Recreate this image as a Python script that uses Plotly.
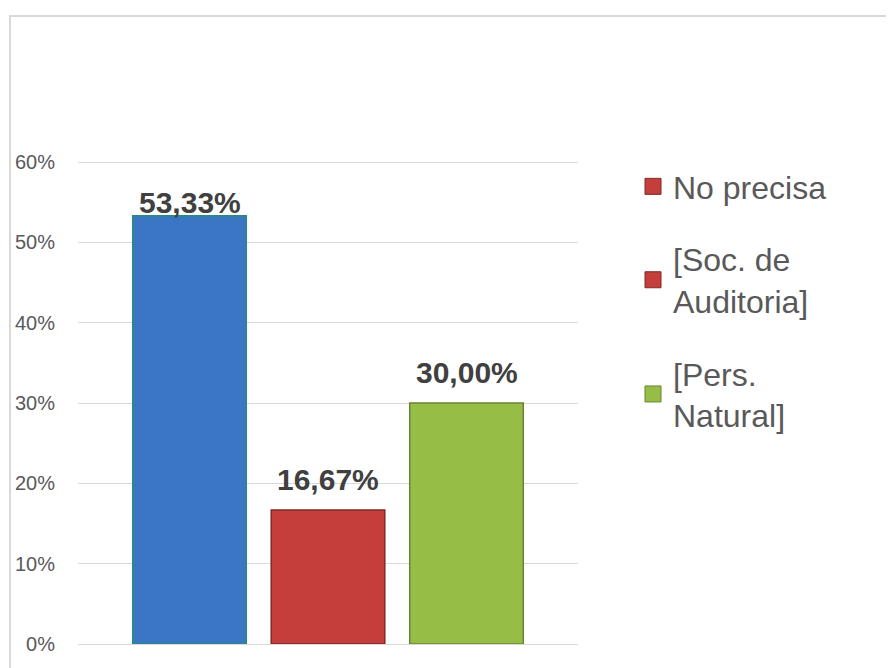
import plotly.graph_objects as go

categories = ["No precisa", "[Soc. de Auditoria]", "[Pers. Natural]"]
legend_labels = ["No precisa", "[Soc. de<br>Auditoria]", "[Pers.<br>Natural]"]
values = [0.5333, 0.1667, 0.30]
value_labels = ["53,33%", "16,67%", "30,00%"]
tick_vals = [0, 0.1, 0.2, 0.3, 0.4, 0.5, 0.6]
tick_text = ["0%", "10%", "20%", "30%", "40%", "50%", "60%"]

bar_colors = ["#3A76C4", "#C43E3B", "#96BE47"]
bar_edges = ["#2A8A7A", "#7E2A28", "#6B8236"]
legend_colors = ["#C43E3B", "#C43E3B", "#96BE47"]
legend_edges = ["#7E2A28", "#7E2A28", "#6B8236"]
label_shift = [-5, 12, 12]

OFF = 8  # page body margin
W, H = 894 - OFF, 668 - OFF
L, R = 78 - OFF, 578 - OFF
Y0, Y60 = 644 - OFF, 162 - OFF
px_per_unit = (Y0 - Y60) / 0.6
ytop = 0.62
T = Y0 - ytop * px_per_unit

fig = go.Figure()
xs = list(range(len(values)))
for i, (x, v) in enumerate(zip(xs, values)):
    fig.add_trace(go.Bar(
        x=[x], y=[v], width=0.82,
        marker=dict(color=bar_colors[i], line=dict(color=bar_edges[i], width=1.5)),
        showlegend=False, hoverinfo="skip",
    ))

for i, name in enumerate(legend_labels):
    fig.add_trace(go.Scatter(
        x=[None], y=[None], mode="markers", name=name,
        marker=dict(symbol="square", size=18, color=legend_colors[i],
                    line=dict(color=legend_edges[i], width=1)),
        legendgroup=f"g{i}",
    ))

for i, (x, v) in enumerate(zip(xs, values)):
    fig.add_annotation(
        x=x, y=v, text=f"<b>{value_labels[i]}</b>", showarrow=False,
        yanchor="bottom", yshift=label_shift[i],
        font=dict(family="Liberation Sans, Arial, sans-serif", size=30, color="#404040"),
    )

# chart border
span_x = R - L
span_y = Y0 - T
fig.add_shape(
    type="rect", xref="paper", yref="paper",
    x0=(10 - OFF - L) / span_x, x1=(910 - L) / span_x,
    y0=(Y0 - 690) / span_y, y1=(Y0 - (16 - OFF)) / span_y,
    line=dict(color="#D9D9D9", width=2), fillcolor="rgba(0,0,0,0)", layer="below",
)

fig.update_layout(
    width=W, height=H,
    margin=dict(l=L, r=W - R, t=T, b=H - Y0, autoexpand=False),
    paper_bgcolor="white", plot_bgcolor="white",
    barmode="overlay",
    font=dict(family="Liberation Sans, Arial, sans-serif", color="#595959"),
    xaxis=dict(range=[-0.805, 2.805], showticklabels=False, showgrid=False,
               zeroline=False, showline=False, ticks=""),
    yaxis=dict(range=[0, ytop], tickvals=tick_vals, ticktext=tick_text,
               showgrid=True, gridcolor="#D9D9D9", gridwidth=1.3,
               zeroline=True, zerolinecolor="#D9D9D9", zerolinewidth=1.3,
               showline=False, ticks="", ticklabelstandoff=22,
               tickfont=dict(size=20, color="#595959")),
    legend=dict(x=1.11, xanchor="left", y=(Y0 - 159 + OFF) / span_y, yanchor="top",
                font=dict(size=32, color="#595959"),
                traceorder="grouped", tracegroupgap=28, itemsizing="trace",
                bgcolor="rgba(0,0,0,0)", borderwidth=0),
    showlegend=True,
)

fig.write_html("out.html")
